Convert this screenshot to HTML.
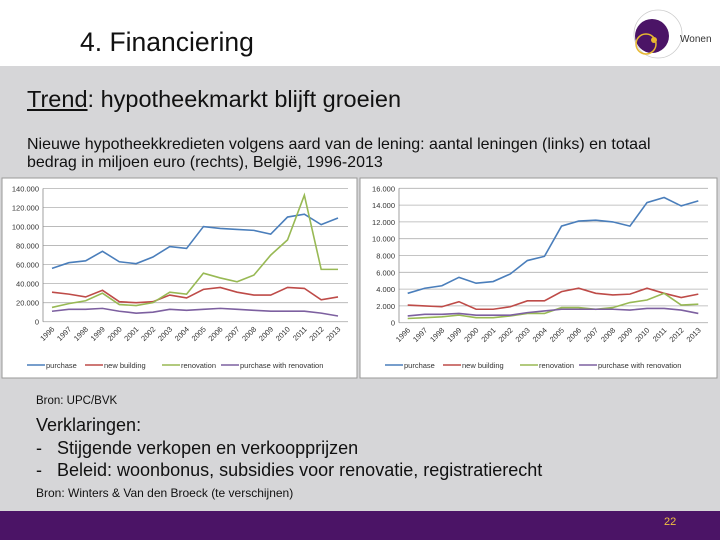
<!DOCTYPE html>
<html><head><meta charset="utf-8">
<style>
body{margin:0;width:720px;height:540px;position:relative;overflow:hidden;background:#fff;font-family:"Liberation Sans",sans-serif;}
.abs{position:absolute;white-space:nowrap;}
</style></head>
<body>
<div class="abs" style="left:0;top:0;width:720px;height:66px;background:#fff;"></div>
<div class="abs" style="left:80px;top:27px;font-size:26.5px;color:#111;">4. Financiering</div>
<svg class="abs" style="left:620px;top:4px" width="100" height="60">
<circle cx="38" cy="30" r="24" fill="none" stroke="#ccc" stroke-width="0.8"/>
<circle cx="32" cy="32" r="17" fill="#4b1466"/>
<circle cx="26" cy="40" r="10" fill="none" stroke="#e8b830" stroke-width="1.5"/>
<circle cx="34" cy="36" r="3" fill="#e8b830"/>
<text x="60" y="38" font-size="10" fill="#333" font-family="Liberation Sans,sans-serif">Wonen</text>
</svg>
<div class="abs" style="left:0;top:66px;width:720px;height:445px;background:#d6d6d8;"></div>
<div class="abs" style="left:27px;top:86px;font-size:23.5px;color:#111;"><u>Trend</u>: hypotheekmarkt blijft groeien</div>
<div class="abs" style="left:27px;top:136px;font-size:16px;line-height:18px;color:#111;">Nieuwe hypotheekkredieten volgens aard van de lening: aantal leningen (links) en totaal<br>bedrag in miljoen euro (rechts), België, 1996-2013</div>
<svg class="abs" id="charts" style="left:0;top:0" width="720" height="540"></svg>
<div class="abs" style="left:36px;top:395px;font-size:11.5px;color:#111;">Bron: UPC/BVK</div>
<div class="abs" style="left:36px;top:414px;font-size:18px;line-height:22.5px;color:#111;">Verklaringen:<br>-&nbsp;&nbsp; Stijgende verkopen en verkoopprijzen<br>-&nbsp;&nbsp; Beleid: woonbonus, subsidies voor renovatie, registratierecht</div>
<div class="abs" style="left:36px;top:486px;font-size:12px;color:#111;">Bron: Winters &amp; Van den Broeck (te verschijnen)</div>
<div class="abs" style="left:0;top:511px;width:720px;height:29px;background:#4b1466;"></div>
<div class="abs" style="left:664px;top:516px;font-size:11px;color:#f0c040;">22</div>
<script>
const years=["1996","1997","1998","1999","2000","2001","2002","2003","2004","2005","2006","2007","2008","2009","2010","2011","2012","2013"];
const seriesNames=["purchase","new building","renovation","purchase with renovation"];
const leftPurchase=[56,62,64,74,63,61,68,79,77,100,98,97,96,92,110,113,102,109];
const leftNew=[31,29,26,33,21,20,21,28,25,34,36,31,28,28,36,35,23,26];
const leftRen=[15,19,22,30,18,17,20,31,29,51,46,42,49,70,86,133,55,55];
const leftPwr=[11,13,13,14,11,9,10,13,12,13,14,13,12,11,11,11,9,6];
const leftTicks=["0","20.000","40.000","60.000","80.000","100.000","120.000","140.000"];
const rightPurchase=[3.5,4.1,4.4,5.4,4.7,4.9,5.8,7.4,7.9,11.5,12.1,12.2,12.0,11.5,14.3,14.9,13.9,14.5];
const rightNew=[2.1,2.0,1.9,2.5,1.6,1.6,1.9,2.6,2.6,3.7,4.1,3.5,3.3,3.4,4.1,3.5,3.0,3.4];
const rightRen=[0.5,0.6,0.7,0.9,0.6,0.6,0.8,1.1,1.1,1.8,1.8,1.6,1.8,2.4,2.7,3.5,2.1,2.2];
const rightPwr=[0.8,1.0,1.0,1.1,0.9,0.9,0.9,1.2,1.4,1.6,1.6,1.6,1.6,1.5,1.7,1.7,1.5,1.1];
const rightTicks=["0","2.000","4.000","6.000","8.000","10.000","12.000","14.000","16.000"];
const colors=["#4a7ebb","#be4b48","#98b954","#7d60a0"];
const legendOffsets=[25,83,160,219];
const NS="http://www.w3.org/2000/svg";
const svg=document.getElementById('charts');
function mk(tag,attrs,parent){const e=document.createElementNS(NS,tag);for(const k in attrs)e.setAttribute(k,attrs[k]);(parent||svg).appendChild(e);return e;}
function chart(cfg){
  const g=mk('g',{});
  
  
  mk('rect',{x:cfg.bx,y:178,width:cfg.bw,height:200,fill:'#fff',stroke:'#999','stroke-width':1},g);
  const n=cfg.ticks.length-1;
  const yS=v=>cfg.y0-(v/cfg.max)*(cfg.y0-cfg.y1);
  const xS=i=>cfg.x0+i*(cfg.x1-cfg.x0)/(years.length-1);
  cfg.ticks.forEach((t,i)=>{
    const v=i*cfg.max/n, y=yS(v);
    const gl=mk('line',{x1:cfg.pl,x2:cfg.pr,y1:y,y2:y,stroke:'#b0b0b0','stroke-width':0.8},g);
    
    
    const tx=mk('text',{x:cfg.pl-4,y:y+3,'text-anchor':'end','font-size':7.5,fill:'#333','font-family':'Liberation Sans,sans-serif'},g);
    tx.textContent=t;
    
    
  });
  mk('line',{x1:cfg.pl,x2:cfg.pl,y1:cfg.y1,y2:cfg.y0,stroke:'#888','stroke-width':0.8},g);
  years.forEach((yr,i)=>{
    const x=xS(i);
    const tx=mk('text',{x:x+3,y:cfg.y0+8,'text-anchor':'end','font-size':7.5,fill:'#333','font-family':'Liberation Sans,sans-serif',transform:`rotate(-45 ${x+3} ${cfg.y0+8})`},g);
    tx.textContent=yr;
    
    
  });
  cfg.series.forEach((s,si)=>{
    const p=mk('polyline',{points:s.map((v,i)=>xS(i)+','+yS(v)).join(' '),fill:'none',stroke:colors[si],'stroke-width':1.6},g);
    
    
  });
  seriesNames.forEach((nm,si)=>{
    const lx=cfg.bx+legendOffsets[si];
    const le=mk('g',{},g);
    
    
    mk('line',{x1:lx,x2:lx+18,y1:365,y2:365,stroke:colors[si],'stroke-width':1.6},le);
    const t=mk('text',{x:lx+19,y:368,'font-size':7.5,fill:'#333','font-family':'Liberation Sans,sans-serif'},le);
    t.textContent=nm;
  });
}
chart({name:'left-chart-number-of-loans',bx:2,bw:355,pl:43,pr:348,x0:52,x1:338,y0:321.7,y1:188.5,max:140,ticks:leftTicks,series:[leftPurchase,leftNew,leftRen,leftPwr]});
chart({name:'right-chart-amount-million-euro',bx:360,bw:357,pl:399,pr:708,x0:407.7,x1:698.3,y0:322.7,y1:188.3,max:16,ticks:rightTicks,series:[rightPurchase,rightNew,rightRen,rightPwr]});
</script>
</body></html>
